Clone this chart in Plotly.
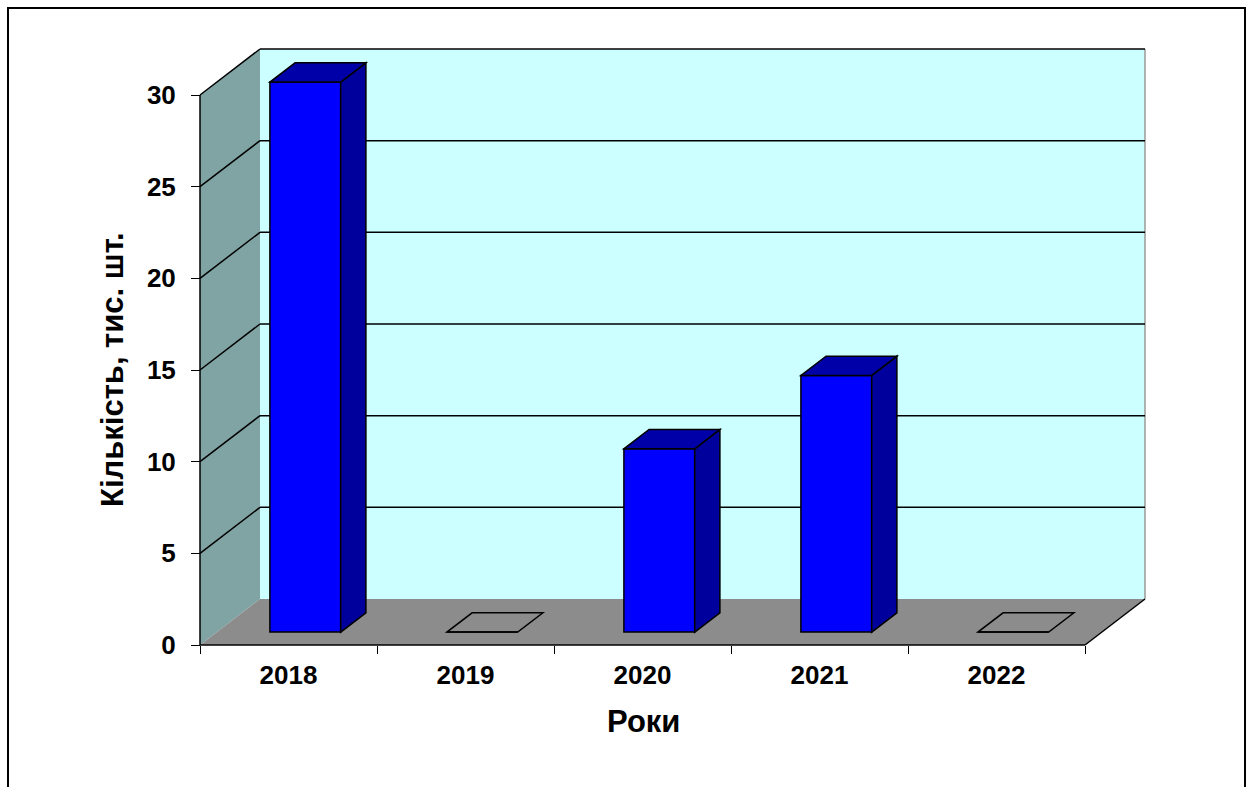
import plotly.graph_objects as go

# ---- data -------------------------------------------------------------
years = ["2018", "2019", "2020", "2021", "2022"]
counts = [30, 0, 10, 14, 0]          # тис. шт.
y_ticks = [0, 5, 10, 15, 20, 25, 30]
y_title = "Кількість, тис. шт."
x_title = "Роки"

# ---- geometry of the pseudo-3D box (page pixels) ----------------------
W, H = 1250, 787
LEFT_PX, RIGHT_PX = 200, 1085     # front edge of the floor
BASE_PX, TOP_PX = 645, 95         # value 0 / value Y_MAX on the front plane
DEPTH_PX = (60, 46)               # shift from the front plane to the back wall
Y_MAX = 30
BAR_HALF = 0.2                    # half bar width, in categories
BAR_D0, BAR_D1 = 0.28, 0.70       # bar front / back depth (0 = front, 1 = back)

n = len(years)
px_cat = (RIGHT_PX - LEFT_PX) / n
px_val = (BASE_PX - TOP_PX) / Y_MAX
DX = DEPTH_PX[0] / px_cat
DY = DEPTH_PX[1] / px_val
x_lo, x_hi = -0.5, n - 0.5

FONT = "Arial, Liberation Sans, sans-serif"
WALL = "#CCFFFF"
SIDE = "#80A4A4"
FLOOR = "#8C8C8C"
BAR_FRONT = "#0000FF"
BAR_TOP = "#0000A8"
BAR_SIDE = "#00009C"


def pt(x, v, d):
    """Project a point (category x, value v, depth d) onto the chart plane."""
    return x + d * DX, v + d * DY


def path(points):
    return "M " + " L ".join(f"{x:.5f},{y:.5f}" for x, y in points) + " Z"


def poly(points, fill, line_color=None, width=0, layer="below"):
    return dict(type="path", xref="x", yref="y", path=path(points),
                fillcolor=fill, layer=layer,
                line=dict(color=line_color or "rgba(0,0,0,0)", width=width))


def seg(a, b, color="black", width=1.5, layer="below"):
    return dict(type="line", xref="x", yref="y", x0=a[0], y0=a[1],
                x1=b[0], y1=b[1], layer=layer,
                line=dict(color=color, width=width))


shapes = []
# walls and floor
shapes.append(poly([pt(x_lo, 0, 1), pt(x_hi, 0, 1), pt(x_hi, Y_MAX, 1), pt(x_lo, Y_MAX, 1)], WALL))
shapes.append(poly([pt(x_lo, 0, 0), pt(x_lo, Y_MAX, 0), pt(x_lo, Y_MAX, 1), pt(x_lo, 0, 1)], SIDE))
shapes.append(poly([pt(x_lo, 0, 0), pt(x_hi, 0, 0), pt(x_hi, 0, 1), pt(x_lo, 0, 1)], FLOOR))
shapes.append(seg(pt(x_hi, 0, 1), pt(x_hi, Y_MAX, 1), color="#9A9A9A", width=1.5))

# gridlines on the back wall and the side wall
for v in y_ticks[1:]:
    shapes.append(seg(pt(x_lo, v, 1), pt(x_hi, v, 1)))
    shapes.append(seg(pt(x_lo, v, 0), pt(x_lo, v, 1)))

# box edges and axis lines
shapes.append(seg(pt(x_hi, 0, 0), pt(x_hi, 0, 1)))
shapes.append(seg(pt(x_lo, 0, 0), pt(x_hi, 0, 0)))
shapes.append(seg(pt(x_lo, 0, 0), pt(x_lo, Y_MAX, 0)))

# top and side faces of each column
for i, v in enumerate(counts):
    l, r = i - BAR_HALF, i + BAR_HALF
    top = [pt(l, v, BAR_D0), pt(r, v, BAR_D0), pt(r, v, BAR_D1), pt(l, v, BAR_D1)]
    if v > 0:
        side = [pt(r, 0, BAR_D0), pt(r, v, BAR_D0), pt(r, v, BAR_D1), pt(r, 0, BAR_D1)]
        shapes.append(poly(side, BAR_SIDE, "black", 1.5, layer="above"))
        shapes.append(poly(top, BAR_TOP, "black", 1.5, layer="above"))
    else:
        shapes.append(poly(top, "rgba(0,0,0,0)", "black", 1.5, layer="below"))

# outer frame of the chart area
shapes.append(dict(type="rect", xref="paper", yref="paper",
                   x0=8 / W, x1=1245 / W, y0=-0.05, y1=1 - 8 / H,
                   line=dict(color="black", width=2), layer="above"))

# front faces of the columns
fig = go.Figure(go.Bar(
    x=years, y=counts,
    base=BAR_D0 * DY,
    offset=-BAR_HALF + BAR_D0 * DX,
    width=2 * BAR_HALF,
    marker=dict(color=BAR_FRONT, line=dict(color="black", width=1.5)),
    hoverinfo="x+y",
))

tick_font = dict(family=FONT, size=26, color="black", weight="bold")
title_font = dict(family=FONT, size=31, color="black", weight="bold")

fig.update_layout(
    width=W, height=H,
    margin=dict(l=0, r=0, t=0, b=0),
    paper_bgcolor="white", plot_bgcolor="white",
    showlegend=False,
    shapes=shapes,
    xaxis=dict(
        type="category", categoryorder="array", categoryarray=years,
        range=[x_lo - LEFT_PX / px_cat, x_lo + (W - LEFT_PX) / px_cat],
        domain=[0, 1], anchor="free", position=(H - BASE_PX) / H,
        tickson="boundaries", ticks="outside", ticklen=8, tickwidth=1,
        tickcolor="black", showline=False, showgrid=False, zeroline=False,
        tickfont=tick_font, ticklabelstandoff=12,
    ),
    yaxis=dict(
        range=[-(H - BASE_PX) / px_val, Y_MAX + TOP_PX / px_val],
        domain=[0, 1], anchor="free", position=LEFT_PX / W,
        tickvals=y_ticks, ticks="outside", ticklen=9, tickwidth=1,
        tickcolor="black", showline=False, showgrid=False, zeroline=False,
        tickfont=tick_font, ticklabelstandoff=10,
    ),
    annotations=[
        dict(text=x_title, xref="paper", yref="paper", x=643 / W, y=1 - 721 / H,
             showarrow=False, font=title_font, xanchor="center", yanchor="middle"),
        dict(text=y_title, xref="paper", yref="paper", x=112 / W,
             y=1 - (BASE_PX + TOP_PX) / 2 / H, textangle=-90,
             showarrow=False, font=title_font, xanchor="center", yanchor="middle"),
    ],
)

fig.write_html("out.html")
